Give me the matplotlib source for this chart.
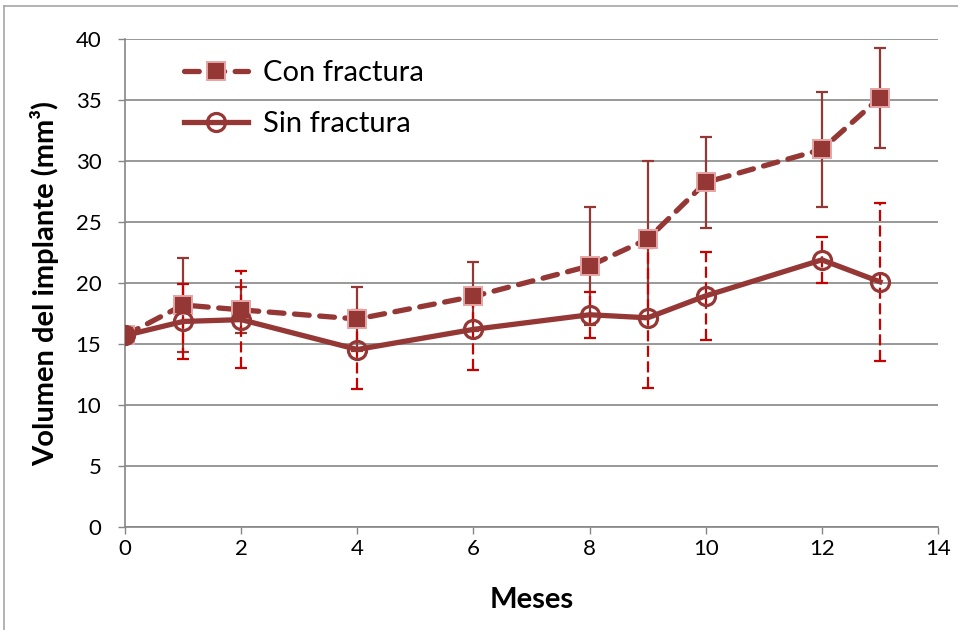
import matplotlib.pyplot as plt
from matplotlib.lines import Line2D

plt.rcParams['font.family'] = ['Lato', 'DejaVu Sans']

meses = [0, 1, 2, 4, 6, 8, 9, 10, 12, 13]

con_fractura = [15.7, 18.2, 17.8, 17.05, 18.9, 21.4, 23.6, 28.25, 30.95, 35.2]
con_err = [0, 3.85, 1.9, 2.6, 2.8, 4.8, 6.4, 3.7, 4.7, 4.1]

sin_fractura = [15.7, 16.85, 17.0, 14.55, 16.2, 17.4, 17.15, 18.95, 21.9, 20.1]
sin_err = [0, 3.1, 3.95, 3.25, 3.3, 1.9, 5.75, 3.6, 1.9, 6.5]

rojo_osc = '#953735'
rosa = '#E6A5A5'
rojo = '#C80000'
gris = '#868686'

fig = plt.figure(figsize=(9.58, 6.3), dpi=100)
ax = fig.add_axes([0.1305, 0.1635, 0.8486, 0.7745])

# marco del grafico
fig.add_artist(Line2D([0.0042, 0.0042], [0, 0.9905], color='#A6A6A6', lw=1.2))
fig.add_artist(Line2D([0.0042, 1.0], [0.9905, 0.9905], color='#A6A6A6', lw=1.2))

# barras de error
eb1 = ax.errorbar(meses, con_fractura, yerr=con_err, fmt='none', ecolor=rojo_osc,
                  elinewidth=1.6, capsize=4.5, capthick=1.6, zorder=2)
eb2 = ax.errorbar(meses, sin_fractura, yerr=sin_err, fmt='none', ecolor=rojo,
                  elinewidth=1.6, capsize=4.5, capthick=1.6, zorder=3)
eb2[2][0].set_linestyle((0, (5, 2)))

ax.plot(meses, con_fractura, color=rojo_osc, lw=3.8, dashes=(2.8, 2.0),
        dash_capstyle='round', marker='s', ms=13.5, mfc=rojo_osc, mec=rosa,
        mew=1.4, label='Con fractura', zorder=4)
ax.plot(meses, sin_fractura, color=rojo_osc, lw=3.8, marker='o', ms=13,
        mfc='none', mec=rojo_osc, mew=2.3, label='Sin fractura', zorder=5)

ax.set_xlim(0, 14)
ax.set_ylim(0, 40)
ax.set_xticks(range(0, 15, 2))
ax.set_yticks(range(0, 41, 5))
ax.yaxis.grid(True, color=gris, lw=1.2)
ax.set_axisbelow(True)

for s in ['top', 'right']:
    ax.spines[s].set_visible(False)
for s in ['left', 'bottom']:
    ax.spines[s].set_color(gris)
    ax.spines[s].set_linewidth(1.2)
ax.tick_params(axis='both', colors=gris, labelcolor='black', labelsize=16,
               length=5, width=1)
ax.tick_params(axis='y', pad=12)
ax.tick_params(axis='x', pad=4)

ax.set_xlabel('Meses', fontsize=21, fontweight='bold', labelpad=20)
ax.set_ylabel('Volumen del implante (mm³)', fontsize=21, fontweight='bold',
              labelpad=12)

ax.legend(loc='upper left', bbox_to_anchor=(0.04, 1.01), frameon=False,
          fontsize=21, handlelength=2.2, labelspacing=0.85, handletextpad=0.5)

plt.savefig('out.png', dpi=100)
